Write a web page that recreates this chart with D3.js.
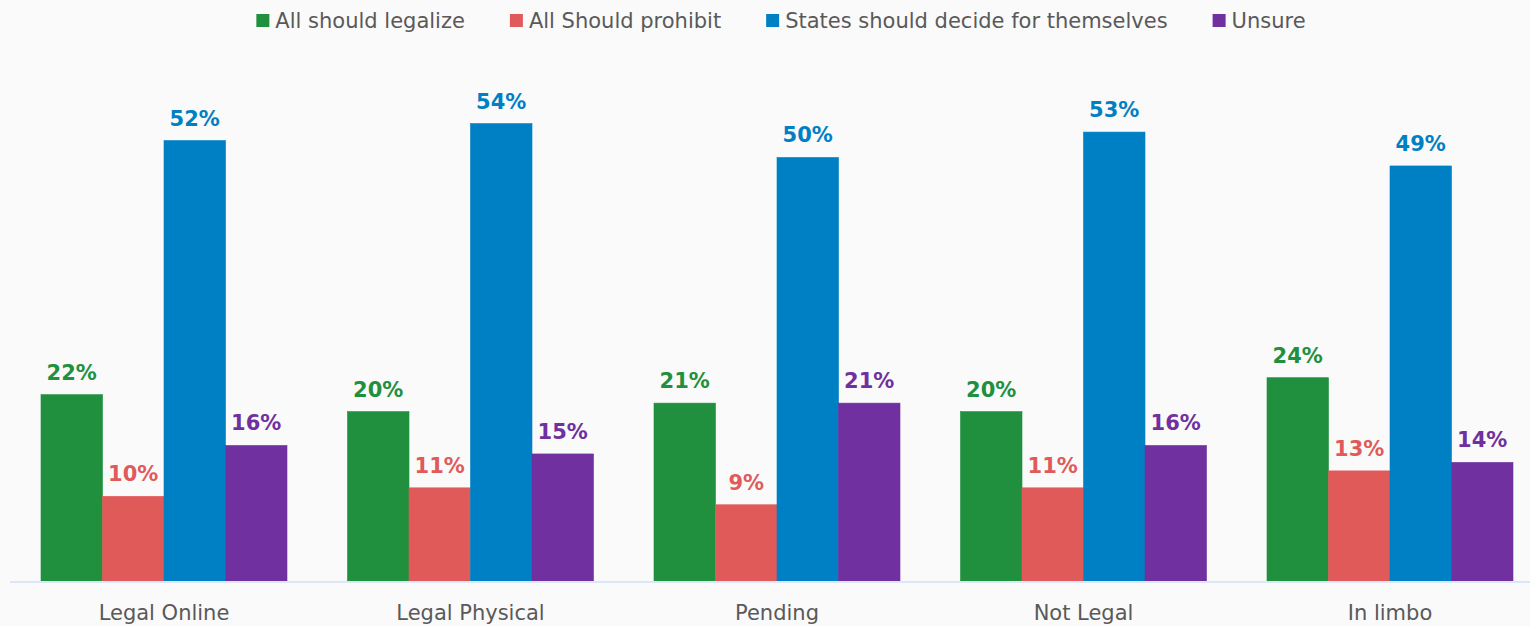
<!DOCTYPE html>
<html>
<head>
<meta charset="utf-8">
<script src="https://cdn.jsdelivr.net/npm/d3@7"></script>
<style>
  html, body { margin: 0; padding: 0; background: #fafafa; overflow: hidden; }
  svg { display: block; font-family: "DejaVu Sans", Verdana, sans-serif; }
</style>
</head>
<body>
<svg id="chart" width="1530" height="626"></svg>
<script>
var categories = ["Legal Online", "Legal Physical", "Pending", "Not Legal", "In limbo"];
var seriesNames = ["All should legalize", "All Should prohibit", "States should decide for themselves", "Unsure"];
var legalize = [22, 20, 21, 20, 24];
var prohibit = [10, 11, 9, 11, 13];
var statesDecide = [52, 54, 50, 53, 49];
var unsure = [16, 15, 21, 16, 14];
var colors = ["#20903e", "#e05a5a", "#0080c4", "#7030a0"];

var seriesValues = [legalize, prohibit, statesDecide, unsure];

var svg = d3.select("#chart"),
        width = +svg.attr("width"),
        height = +svg.attr("height"),
        baseY = 581;

var x0 = d3.scaleBand()
        .domain(categories)
        .range([10.75, 1543.25])
        .paddingInner(0.1974)
        .paddingOuter(0.0987);

var x1 = d3.scaleBand()
        .domain(seriesNames)
        .range([0, x0.bandwidth()]);

var y = d3.scaleLinear()
        .domain([0, 54])
        .range([baseY, 123.6]);

// rows of {cat, series, value}
var data = categories.map(function (c, i) {
    return {
        cat: c,
        vals: seriesNames.map(function (s, j) {
            return {series: s, value: seriesValues[j][i], color: colors[j]};
        })
    };
});

var groups = svg.append("g").selectAll("g")
        .data(data)
        .enter().append("g")
        .attr("transform", function (d) { return "translate(" + x0(d.cat) + ",0)"; });

groups.selectAll("rect")
        .data(function (d) { return d.vals; })
        .enter().append("rect")
        .attr("x", function (d) { return x1(d.series); })
        .attr("y", function (d) { return y(d.value); })
        .attr("width", x1.bandwidth())
        .attr("height", function (d) { return baseY - y(d.value); })
        .attr("fill", function (d) { return d.color; })
        .attr("stroke", function (d) { return d.color; })
        .attr("stroke-width", 0.6);

groups.selectAll("text")
        .data(function (d) { return d.vals; })
        .enter().append("text")
        .attr("x", function (d) { return x1(d.series) + x1.bandwidth() / 2; })
        .attr("y", function (d) { return y(d.value) - 15; })
        .attr("text-anchor", "middle")
        .attr("font-size", "21px")
        .attr("font-weight", "bold")
        .attr("fill", function (d) { return d.color; })
        .text(function (d) { return d.value + "%"; });

// baseline
svg.append("line")
        .attr("x1", 10)
        .attr("x2", width)
        .attr("y1", baseY + 1)
        .attr("y2", baseY + 1)
        .attr("stroke", "#dbe6f6")
        .attr("stroke-width", 2);

var xAxis = svg.append("g")
        .attr("transform", "translate(0," + baseY + ")")
        .call(d3.axisBottom(x0).tickSize(0).tickPadding(0));
xAxis.select(".domain").remove();
xAxis.selectAll("text")
        .attr("y", 39)
        .attr("dy", null)
        .attr("font-size", "21px")
        .attr("font-family", "DejaVu Sans, Verdana, sans-serif")
        .attr("fill", "#595959");

// legend
var legend = svg.append("g");
var items = legend.selectAll("g")
        .data(seriesNames)
        .enter().append("g");
items.append("rect")
        .attr("y", 14)
        .attr("width", 13)
        .attr("height", 13)
        .attr("fill", function (d, i) { return colors[i]; });
items.append("text")
        .attr("x", 19)
        .attr("y", 28)
        .attr("font-size", "21px")
        .attr("fill", "#595959")
        .text(function (d) { return d; });

var pos = 0;
items.each(function () {
    var g = d3.select(this);
    g.attr("transform", "translate(" + pos + ",0)");
    pos += 19 + g.select("text").node().getComputedTextLength() + 45;
});
var total = pos - 45;
legend.attr("transform", "translate(" + (781 - total / 2) + ",0)");
</script>
</body>
</html>
